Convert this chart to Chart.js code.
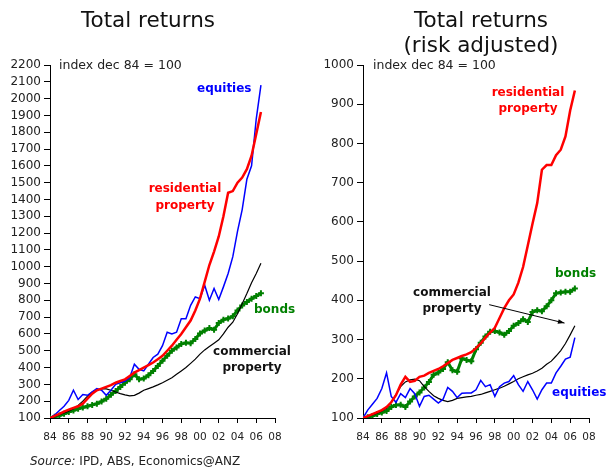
<!DOCTYPE html>
<html>
<head>
<meta charset="utf-8">
<script src="https://cdn.jsdelivr.net/npm/chart.js@4.4.1/dist/chart.umd.min.js"></script>
<style>
  body {
    margin: 0;
    width: 607px;
    height: 468px;
    overflow: hidden;
    background: #fff;
    position: relative;
    font-family: "DejaVu Sans", Verdana, sans-serif;
    color: #111;
  }
  canvas { position: absolute; top: 0; }
  #left_chart { left: 0; }
  #right_chart { left: 300px; }
  .txt { position: absolute; white-space: nowrap; z-index: 2; }
  .title { font-size: 21.5px; line-height: 25px; text-align: center; width: 260px; }
  .lbl { font-size: 12px; font-weight: bold; line-height: 16px; }
  .ctr { text-align: center; width: 110px; }
  .note { font-size: 12.5px; line-height: 16px; color: #222; }
</style>
</head>
<body>
<canvas id="left_chart" width="300" height="468"></canvas>
<canvas id="right_chart" width="307" height="468"></canvas>

<div class="txt title" style="left:18px; top:7px;">Total returns</div>
<div class="txt title" style="left:351px; top:7px;">Total returns<br>(risk adjusted)</div>

<div class="txt note" style="left:59px; top:57px;">index dec 84 = 100</div>
<div class="txt lbl" style="left:197px; top:80px; color:#0000ff;">equities</div>
<div class="txt lbl ctr" style="left:130px; top:180px; line-height:17px; color:#ff0000;">residential<br>property</div>
<div class="txt lbl" style="left:254px; top:301px; color:#008000;">bonds</div>
<div class="txt lbl ctr" style="left:197px; top:343px; color:#111;">commercial<br>property</div>

<div class="txt note" style="left:373px; top:57px;">index dec 84 = 100</div>
<div class="txt lbl ctr" style="left:473px; top:84px; color:#ff0000;">residential<br>property</div>
<div class="txt lbl" style="left:555px; top:265px; color:#008000;">bonds</div>
<div class="txt lbl ctr" style="left:397px; top:284px; color:#111;">commercial<br>property</div>
<div class="txt lbl" style="left:552px; top:384px; color:#0000ff;">equities</div>

<div class="txt note" style="left:30px; top:453px; font-size:12px;"><i>Source:</i> IPD, ABS, Economics@ANZ</div>

<script>
/* Half-yearly observations, Dec 1984 = 100. */
const years = [
  1984, 1984.5, 1985, 1985.5, 1986, 1986.5, 1987, 1987.5, 1988, 1988.5,
  1989, 1989.5, 1990, 1990.5, 1991, 1991.5, 1992, 1992.5, 1993, 1993.5,
  1994, 1994.5, 1995, 1995.5, 1996, 1996.5, 1997, 1997.5, 1998, 1998.5,
  1999, 1999.5, 2000, 2000.5, 2001, 2001.5, 2002, 2002.5, 2003, 2003.5,
  2004, 2004.5, 2005, 2005.5, 2006, 2006.5
];

/* Left panel: total returns */
const equities = [
  100, 118, 145, 170, 205, 265, 210, 240, 235, 255,
  275, 265, 235, 265, 300, 310, 320, 340, 420, 390,
  380, 420, 460, 480, 530, 610, 600, 610, 690, 690,
  770, 820, 810, 890, 800, 870, 805, 880, 960, 1060,
  1210, 1340, 1520, 1600, 1880, 2080
];
const residential = [
  100, 112, 125, 138, 150, 160, 170, 185, 215, 245,
  265, 275, 285, 295, 310, 320, 330, 350, 370, 385,
  400, 415, 430, 450, 470, 500, 530, 565, 600, 640,
  680, 740, 810, 910, 1010, 1090, 1180, 1300, 1440, 1450,
  1500, 1530, 1580, 1660, 1790, 1920
];
const commercial = [
  100, 108, 120, 130, 140, 155, 175, 200, 230, 255,
  268, 275, 273, 265, 255, 245, 238, 232, 235, 248,
  265, 275, 285, 297, 310, 325, 340, 360, 380, 400,
  425, 450, 480, 505, 525, 545, 565, 600, 640, 670,
  720, 780, 840, 905, 960, 1020
];
const bonds = [
  100, 108, 115, 125, 135, 145, 155, 162, 170, 178,
  185, 198, 215, 238, 260, 285, 310, 330, 360, 330,
  335, 355, 380, 410, 440, 470, 500, 520, 540, 548,
  545, 570, 603, 620, 635, 625, 665, 685, 692, 705,
  740, 770, 790, 810, 826, 842
];

/* Right panel: risk adjusted */
const equities_ra = [
  100, 120, 135, 150, 175, 215, 155, 140, 162, 152,
  175, 162, 130, 155, 158, 148, 138, 148, 178, 168,
  152, 163, 164, 164, 172, 196, 180, 185, 155, 180,
  189, 193, 208, 185, 168, 193, 172, 148, 172, 189,
  189, 215, 232, 250, 255, 305
];
const residential_ra = [
  100, 105, 110, 115, 120, 128, 140, 158, 185, 205,
  192, 195, 205, 208, 215, 220, 225, 232, 240, 248,
  253, 258, 262, 268, 278, 290, 305, 318, 330, 355,
  380, 400, 415, 445, 485, 540, 595, 648, 733, 745,
  745, 770, 784, 818, 884, 935
];
const commercial_ra = [
  100, 104, 108, 112, 118, 125, 140, 160, 180, 192,
  197, 199, 195, 180, 168, 157, 150, 145, 142, 145,
  150, 152, 154, 155, 158, 160, 164, 168, 172, 176,
  181, 187, 193, 200, 205, 210, 214, 220, 227, 237,
  245, 258, 272, 290, 312, 335
];
const bonds_ra = [
  100, 102, 105, 110, 114, 118, 128, 133, 134, 128,
  142, 155, 165, 178, 192, 210, 216, 225, 242, 222,
  218, 252, 248, 245, 275, 292, 308, 320, 322, 318,
  312, 322, 335, 342, 352, 345, 370, 375, 372, 385,
  400, 418, 420, 422, 422, 430
];

const x_tick_years = [1984, 1986, 1988, 1990, 1992, 1994, 1996, 1998, 2000, 2002, 2004, 2006, 2008];
const x_tick_labels = ["84", "86", "88", "90", "92", "94", "96", "98", "00", "02", "04", "06", "08"];
const left_y_ticks = [100, 200, 300, 400, 500, 600, 700, 800, 900, 1000, 1100,
  1200, 1300, 1400, 1500, 1600, 1700, 1800, 1900, 2000, 2100, 2200];
const right_y_ticks = [100, 200, 300, 400, 500, 600, 700, 800, 900, 1000];

/* arrow from the "commercial property" label to its line (data coords) */
const arrow_from = [1997.4, 389];
const arrow_to = [2005.4, 342];

const FONT = "'DejaVu Sans', Verdana, sans-serif";

function pts(vals) {
  return vals.map((v, i) => ({ x: years[i], y: v }));
}

function line(vals, color, width) {
  return {
    data: pts(vals),
    borderColor: color,
    borderWidth: width,
    pointRadius: 0,
    tension: 0,
  };
}

function bond_line(vals) {
  return {
    data: pts(vals),
    borderColor: "#008000",
    borderWidth: 3,
    pointStyle: "cross",
    pointRadius: 3,
    pointBorderWidth: 2,
    pointBorderColor: "#008000",
    tension: 0,
  };
}

const arrow_plugin = {
  id: "arrow",
  afterDatasetsDraw(chart, args, opts) {
    if (!opts.from) return;
    const xs = chart.scales.x;
    const ys = chart.scales.y;
    const x1 = xs.getPixelForValue(opts.from[0]);
    const y1 = ys.getPixelForValue(opts.from[1]);
    const x2 = xs.getPixelForValue(opts.to[0]);
    const y2 = ys.getPixelForValue(opts.to[1]);
    const ctx = chart.ctx;
    const ang = Math.atan2(y2 - y1, x2 - x1);
    ctx.save();
    ctx.strokeStyle = "#000";
    ctx.fillStyle = "#000";
    ctx.lineWidth = 1;
    ctx.beginPath();
    ctx.moveTo(x1, y1);
    ctx.lineTo(x2, y2);
    ctx.stroke();
    ctx.beginPath();
    ctx.moveTo(x2, y2);
    ctx.lineTo(x2 - 7 * Math.cos(ang - 0.35), y2 - 7 * Math.sin(ang - 0.35));
    ctx.lineTo(x2 - 7 * Math.cos(ang + 0.35), y2 - 7 * Math.sin(ang + 0.35));
    ctx.closePath();
    ctx.fill();
    ctx.restore();
  },
};

function make_chart(id, datasets, y_ticks, y_width, pad_right, arrow) {
  return new Chart(document.getElementById(id), {
    type: "line",
    data: { datasets: datasets },
    plugins: [arrow_plugin],
    options: {
      responsive: false,
      animation: false,
      layout: { padding: { top: 65, right: pad_right, bottom: 20, left: 0 } },
      plugins: {
        legend: { display: false },
        tooltip: { enabled: false },
        arrow: arrow || {},
      },
      scales: {
        x: {
          type: "linear",
          min: 1984,
          max: 2008,
          afterBuildTicks: (s) => { s.ticks = x_tick_years.map((v) => ({ value: v })); },
          afterFit: (s) => { s.height = 30; },
          ticks: {
            autoSkip: false,
            maxRotation: 0,
            padding: 8,
            color: "#222",
            font: { family: FONT, size: 10.5 },
            callback: (v, i) => x_tick_labels[i],
          },
          grid: { drawOnChartArea: false, tickLength: 5, color: "#000" },
          border: { color: "#000", width: 1 },
        },
        y: {
          min: y_ticks[0],
          max: y_ticks[y_ticks.length - 1],
          afterBuildTicks: (s) => { s.ticks = y_ticks.map((v) => ({ value: v })); },
          afterFit: (s) => { s.width = y_width; },
          ticks: {
            autoSkip: false,
            padding: 3,
            color: "#222",
            font: { family: FONT, size: 12 },
            callback: (v, i) => String(y_ticks[i]),
          },
          grid: { drawOnChartArea: false, tickLength: 6, color: "#000" },
          border: { color: "#000", width: 1 },
        },
      },
    },
  });
}

/* index 0 is drawn on top */
make_chart("left_chart", [
  line(residential, "#ff0000", 2.5),
  line(equities, "#0000ff", 1.5),
  line(commercial, "#000000", 1.2),
  bond_line(bonds),
], left_y_ticks, 50, 25);

make_chart("right_chart", [
  line(residential_ra, "#ff0000", 2.5),
  line(equities_ra, "#0000ff", 1.5),
  line(commercial_ra, "#000000", 1.2),
  bond_line(bonds_ra),
], right_y_ticks, 63, 18, { from: arrow_from, to: arrow_to });
</script>
</body>
</html>
